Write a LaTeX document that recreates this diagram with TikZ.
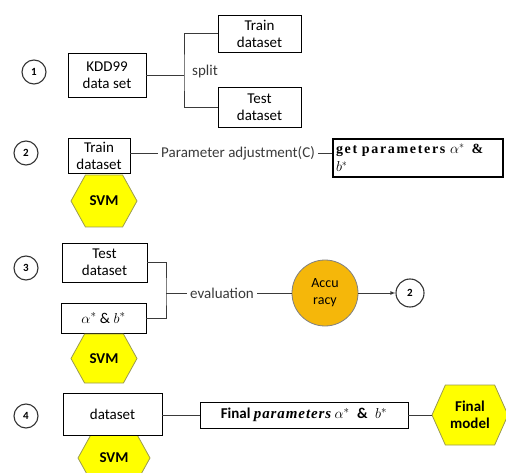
\documentclass[tikz,border=0pt]{standalone}
\usepackage{fontspec}
\setmainfont{Carlito}
\newfontfamily\parfont[LetterSpace=6]{Liberation Serif}
\newfontfamily\getfont[LetterSpace=12]{Liberation Serif}
\usetikzlibrary{shapes.symbols,arrows}

\definecolor{hexyellow}{HTML}{FFFF00}
\definecolor{hexedge}{HTML}{9A9A50}
\definecolor{accorange}{HTML}{F5B70A}
\definecolor{linegray}{HTML}{3A3A3A}

\tikzset{
  box/.style={draw=black, line width=0.9pt, fill=white, align=center, inner sep=0pt,
    font=\fontsize{15}{17}\selectfont},
  numcirc/.style={draw=black!80, circle, line width=1.1pt, minimum size=24pt, inner sep=0pt,
    font=\fontsize{11}{12}\selectfont\bfseries},
  svmhex/.style={signal, signal to=west and east, signal pointer angle=122, draw=hexedge,
    line width=0.8pt, fill=hexyellow, inner sep=0pt, align=center,
    font=\fontsize{15}{17}\selectfont\bfseries},
  acc/.style={circle, draw=black!50, line width=0.8pt, fill=accorange, minimum size=66pt,
    inner sep=0pt, align=center, font=\fontsize{14}{17}\selectfont},
  lbl/.style={inner sep=3pt, text=linegray, font=\fontsize{15}{17}\selectfont},
  conn/.style={draw=linegray, line width=0.8pt}
}

\begin{document}
\begin{tikzpicture}[x=1pt,y=-1pt]
\useasboundingbox (0,0) rectangle (506,473);

%% Step 1: KDD99 is split into train and test
\node[numcirc] (n1) at (34,72) {1};
\node[box, minimum width=78pt, minimum height=44pt] (kdd) at (107,75) {KDD99\\data set};
\node[box, minimum width=83pt, minimum height=37pt] (train1) at (259.5,33.5) {Train\\dataset};
\node[box, minimum width=83pt, minimum height=40pt] (test1) at (259.5,107) {Test\\dataset};
\coordinate (sp) at (184,75);
\node[lbl, anchor=west] (split) at (189,72) {split};
%% Draw the split bracket
\draw[conn] (kdd.east) -- (sp);
\draw[conn] (train1.west) -| (sp) |- (test1.west);

%% Step 2: train the SVM
\node[numcirc] (n2) at (26,153) {2};
\node[svmhex, minimum width=66pt, minimum height=52pt] (svm2) at (104,201) {SVM};
\node[box, minimum width=62pt, minimum height=35pt] (train2) at (99,155.5) {Train\\dataset};
\node[lbl] (padj) at (238,153) {Parameter adjustment(C)};
\node[box, line width=1.3pt, minimum width=170pt, minimum height=38pt, text width=164pt,
  align=left, font=\getfont\bfseries\fontsize{14}{16}\selectfont] (getp) at (418,158)
  {get parameters $\alpha^{*}$\enspace\&\\[2pt]$b^{*}$};
\draw[conn] (train2.east |- padj) -- (padj.west);
\draw[conn] (padj.east) -- (padj -| getp.west);

%% Step 3: evaluate on the test set
\node[numcirc] (n3) at (26,268) {3};
\node[box, minimum width=85pt, minimum height=39pt] (test3) at (104.5,262.5) {Test\\dataset};
\node[box, minimum width=85pt, minimum height=30pt] (ab3) at (103.5,318) {$\alpha^{*}$ \& $b^{*}$};
\node[svmhex, minimum width=66pt, minimum height=49pt] (svm3) at (104,358.5) {SVM};
\coordinate (ev) at (166,293);
\draw[conn] (test3.east) -| (ev) |- (ab3.east);
\node[lbl] (eval) at (222,293) {evaluation};
\draw[conn] (ev) -- (eval.west);
\node[acc] (acc) at (325,293) {Accu\\racy};
\draw[conn] (eval.east) -- (acc.west);
\node[numcirc, minimum size=28pt] (back2) at (410,293) {2};
\draw[conn, -latex] (acc.east) -- (back2.west);

%% Step 4: final model
\node[numcirc] (n4) at (26,416) {4};
\node[svmhex, minimum width=72pt, minimum height=46pt] (svm4) at (114,458) {SVM};
\node[box, minimum width=99pt, minimum height=42pt] (data4) at (112.5,414) {dataset};
\node[box, minimum width=208pt, minimum height=26pt] (finp) at (304,415)
  {\bfseries Final {\parfont\bfseries\itshape parameters} $\alpha^{*}$\enspace\&\enspace$b^{*}$};
\node[svmhex, signal pointer angle=132, minimum width=76pt, minimum height=60pt] (final)
  at (470,415) {Final\\model};
\draw[conn] (data4.east |- finp) -- (finp.west);
\draw[conn] (finp.east) -- (final.west);

\end{tikzpicture}
\end{document}
